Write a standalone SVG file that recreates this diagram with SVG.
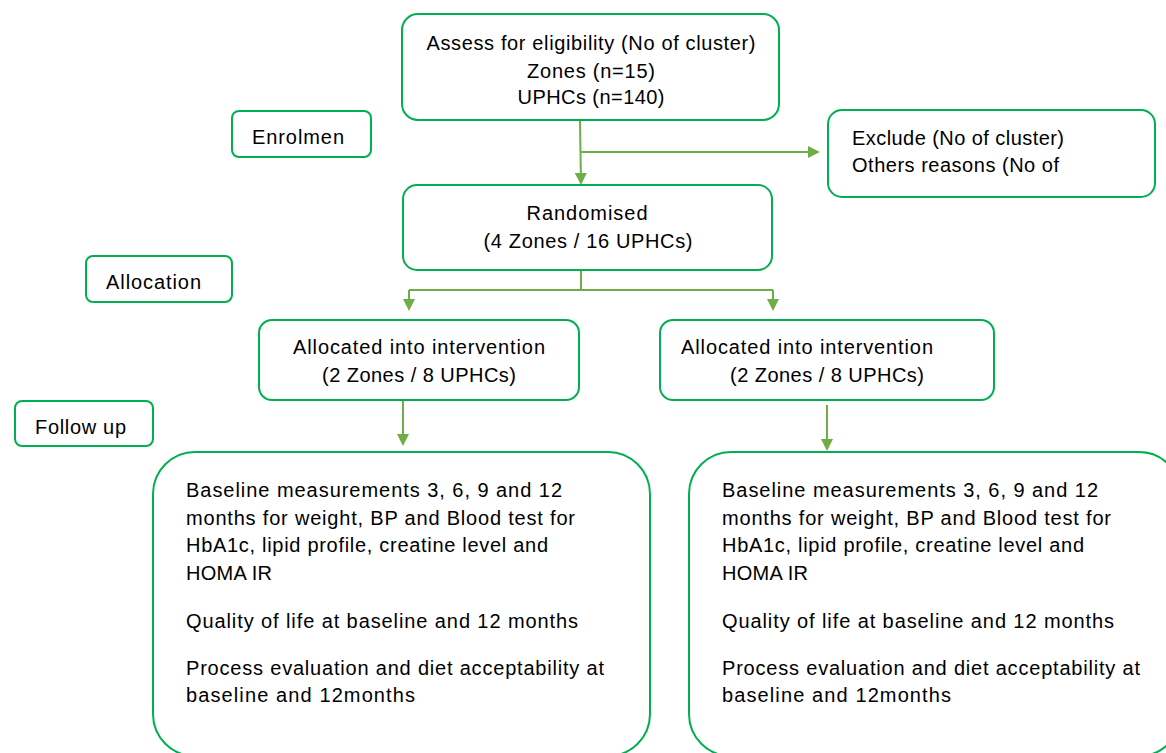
<svg xmlns="http://www.w3.org/2000/svg" width="1166" height="753" viewBox="0 0 1166 753">
<defs>
<marker id="ah" markerWidth="12" markerHeight="12" refX="10" refY="6" orient="auto" markerUnits="userSpaceOnUse">
<path d="M0,0 L12,6 L0,12 Z" fill="#70ad47"/>
</marker>
<style>
.box{fill:#fff;stroke:#00b050;stroke-width:2}
.t{font-family:"Liberation Sans",Arial,sans-serif;font-size:20px;fill:#000}
.c{text-anchor:middle}
.ln{fill:none;stroke:#70ad47;stroke-width:2}
</style>
</defs>
<rect width="1166" height="753" fill="#fff"/>
<g id="connectors">
<path class="ln" d="M580,121 L581,183" marker-end="url(#ah)"/>
<path class="ln" d="M580,152 L818,152" marker-end="url(#ah)"/>
<path class="ln" d="M581,270 L581,290 M409,290 L773,290"/>
<path class="ln" d="M409,290 L409,309" marker-end="url(#ah)"/>
<path class="ln" d="M773,290 L773,309" marker-end="url(#ah)"/>
<path class="ln" d="M403,401 L403,444" marker-end="url(#ah)"/>
<path class="ln" d="M827,405 L827,449" marker-end="url(#ah)"/>
</g>
<g id="assess">
<rect class="box" x="402" y="14" width="377" height="106" rx="16"/>
<text class="t c" x="591" y="50" textLength="329" lengthAdjust="spacing">Assess for eligibility (No of cluster)</text>
<text class="t c" x="591" y="78" textLength="128" lengthAdjust="spacing">Zones (n=15)</text>
<text class="t c" x="591" y="104" textLength="147" lengthAdjust="spacing">UPHCs (n=140)</text>
</g>
<g id="exclude">
<rect class="box" x="828" y="110" width="327" height="87" rx="14"/>
<text class="t" x="852" y="145" textLength="212" lengthAdjust="spacing">Exclude (No of cluster)</text>
<text class="t" x="852" y="172" textLength="207" lengthAdjust="spacing">Others reasons (No of</text>
</g>
<g id="enrolmen">
<rect class="box" x="232" y="111" width="139" height="46" rx="7"/>
<text class="t" x="252" y="144" textLength="92" lengthAdjust="spacing">Enrolmen</text>
</g>
<g id="randomised">
<rect class="box" x="403" y="185" width="369" height="85" rx="14"/>
<text class="t c" x="587" y="220" textLength="121" lengthAdjust="spacing">Randomised</text>
<text class="t c" x="588" y="248" textLength="209" lengthAdjust="spacing">(4 Zones / 16 UPHCs)</text>
</g>
<g id="allocation">
<rect class="box" x="86" y="256" width="146" height="46" rx="7"/>
<text class="t" x="106" y="289" textLength="95" lengthAdjust="spacing">Allocation</text>
</g>
<g id="alloc-left">
<rect class="box" x="259" y="320" width="320" height="80" rx="13"/>
<text class="t" x="293" y="354" textLength="252" lengthAdjust="spacing">Allocated into intervention</text>
<text class="t" x="322" y="382" textLength="194" lengthAdjust="spacing">(2 Zones / 8 UPHCs)</text>
</g>
<g id="alloc-right">
<rect class="box" x="660" y="320" width="334" height="80" rx="13"/>
<text class="t" x="681" y="354" textLength="252" lengthAdjust="spacing">Allocated into intervention</text>
<text class="t" x="730" y="382" textLength="194" lengthAdjust="spacing">(2 Zones / 8 UPHCs)</text>
</g>
<g id="followup">
<rect class="box" x="15" y="401" width="138" height="45" rx="7"/>
<text class="t" x="35" y="434" textLength="91" lengthAdjust="spacing">Follow up</text>
</g>
<g id="followup-left">
<rect class="box" x="153" y="452" width="497" height="304" rx="42"/>
<text class="t" x="186" y="497" textLength="376" lengthAdjust="spacing">Baseline measurements 3, 6, 9 and 12</text>
<text class="t" x="186" y="525" textLength="389" lengthAdjust="spacing">months for weight, BP and Blood test for</text>
<text class="t" x="186" y="552" textLength="362" lengthAdjust="spacing">HbA1c, lipid profile, creatine level and</text>
<text class="t" x="186" y="580" textLength="86" lengthAdjust="spacing">HOMA IR</text>
<text class="t" x="186" y="628" textLength="392" lengthAdjust="spacing">Quality of life at baseline and 12 months</text>
<text class="t" x="186" y="675" textLength="418" lengthAdjust="spacing">Process evaluation and diet acceptability at</text>
<text class="t" x="186" y="702" textLength="229" lengthAdjust="spacing">baseline and 12months</text>
</g>
<g id="followup-right">
<rect class="box" x="689" y="452" width="492" height="304" rx="42"/>
<text class="t" x="722" y="497" textLength="376" lengthAdjust="spacing">Baseline measurements 3, 6, 9 and 12</text>
<text class="t" x="722" y="525" textLength="389" lengthAdjust="spacing">months for weight, BP and Blood test for</text>
<text class="t" x="722" y="552" textLength="362" lengthAdjust="spacing">HbA1c, lipid profile, creatine level and</text>
<text class="t" x="722" y="580" textLength="86" lengthAdjust="spacing">HOMA IR</text>
<text class="t" x="722" y="628" textLength="392" lengthAdjust="spacing">Quality of life at baseline and 12 months</text>
<text class="t" x="722" y="675" textLength="418" lengthAdjust="spacing">Process evaluation and diet acceptability at</text>
<text class="t" x="722" y="702" textLength="229" lengthAdjust="spacing">baseline and 12months</text>
</g>
</svg>
